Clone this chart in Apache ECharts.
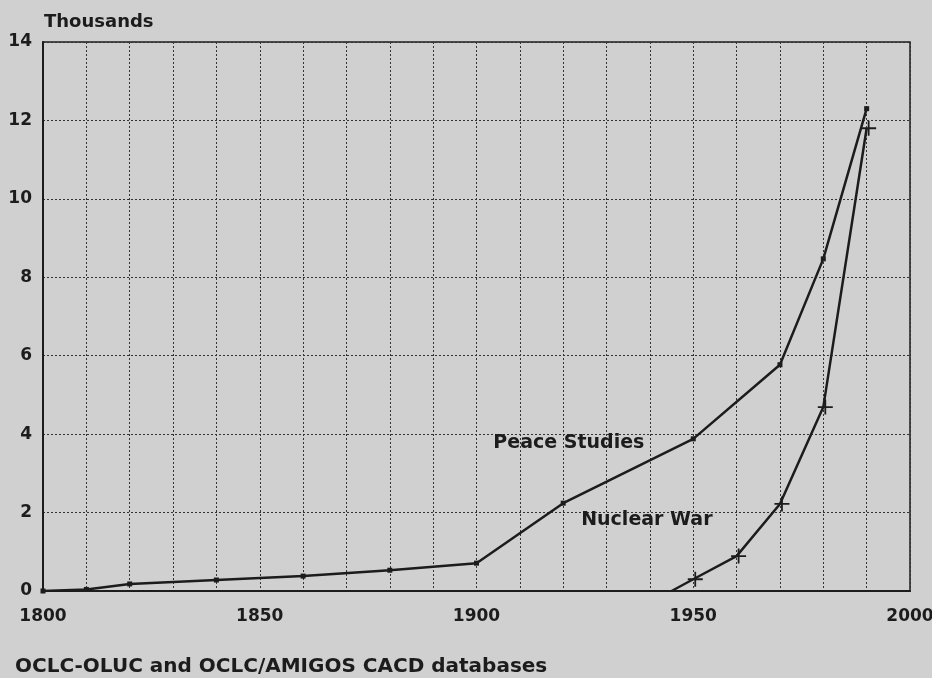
<!DOCTYPE html>
<html>
<head>
<meta charset="utf-8">
<script src="https://cdn.jsdelivr.net/npm/echarts@6/dist/echarts.min.js"></script>
<style>
  html, body { margin: 0; padding: 0; background: #d0d0d0; }
  #chart { width: 932px; height: 678px; }
</style>
</head>
<body>
<div id="chart"></div>
<script>
// values in thousands
const peaceStudies = [
  [1800, 0], [1810, 0.04], [1820, 0.18], [1840, 0.28], [1860, 0.38],
  [1880, 0.53], [1900, 0.71], [1920, 2.24], [1950, 3.88], [1970, 5.77],
  [1980, 8.47], [1990, 12.3]
];
const nuclearWar = [
  [1945, 0], [1950, 0.3], [1960, 0.89], [1970, 2.22], [1980, 4.69], [1990, 11.8]
];
const yearLabels = [1800, 1850, 1900, 1950, 2000];
const seriesLabels = [
  { name: "Peace Studies", at: [1921.3, 3.78] },
  { name: "Nuclear War", at: [1939.3, 1.81] }
];

const ink = "#1c1c1c";
const font = "DejaVu Sans";
const crossSymbol = "path://M0,4.4H10V5.6H0Z M4.4,0H5.6V10H4.4Z";

function seriesLabel(i) {
  return {
    symbol: "circle", symbolSize: 0,
    itemStyle: { color: "transparent" },
    data: [{
      coord: seriesLabels[i].at,
      label: {
        show: true, position: "inside", formatter: seriesLabels[i].name,
        fontSize: 19, fontWeight: "bold", color: ink, fontFamily: font
      }
    }]
  };
}

const chart = echarts.init(document.getElementById("chart"), null, { renderer: "canvas" });

chart.setOption({
  animation: false,
  backgroundColor: "#d0d0d0",
  textStyle: { fontFamily: font, color: ink },
  grid: {
    left: 43, right: 22, top: 42, bottom: 87,
    outerBoundsMode: "none", containLabel: false,
    show: true, borderColor: ink, borderWidth: 1.5, backgroundColor: "transparent"
  },
  title: [
    {
      text: "Thousands", left: 39, top: 8,
      textStyle: { fontFamily: font, fontSize: 18, fontWeight: "bold", color: ink }
    },
    {
      text: "OCLC-OLUC and OCLC/AMIGOS CACD databases", left: 10, top: 652,
      textStyle: { fontFamily: font, fontSize: 20, fontWeight: "bold", color: ink }
    }
  ],
  xAxis: {
    type: "value", min: 1800, max: 2000, interval: 10,
    axisLine: { show: true, onZero: false, lineStyle: { color: ink, width: 2 } },
    axisTick: { show: false },
    axisLabel: {
      margin: 17, fontSize: 17, fontWeight: "bold", color: ink, fontFamily: font,
      formatter: v => (yearLabels.includes(v) ? String(v) : "")
    },
    splitLine: { show: true, lineStyle: { type: [2, 2], color: "#333", width: 1 } }
  },
  yAxis: {
    type: "value", min: 0, max: 14, interval: 2,
    axisLine: { show: true, lineStyle: { color: ink, width: 2 } },
    axisTick: { show: false },
    axisLabel: { margin: 11, fontSize: 17, fontWeight: "bold", color: ink, fontFamily: font },
    splitLine: { show: true, lineStyle: { type: [2, 2], color: "#333", width: 1 } }
  },
  series: [
    {
      name: "Peace Studies", type: "line", data: peaceStudies,
      symbol: "rect", symbolSize: 5, showSymbol: true,
      lineStyle: { color: ink, width: 2.5 },
      itemStyle: { color: ink },
      markPoint: seriesLabel(0)
    },
    {
      name: "Nuclear War", type: "line",
      data: nuclearWar.map((p, i) => (i === 0 ? { value: p, symbol: "none" } : p)),
      symbol: crossSymbol, symbolSize: 15,
      symbolOffset: [2, 0],
      lineStyle: { color: ink, width: 2.5 },
      itemStyle: { color: ink },
      markPoint: seriesLabel(1)
    }
  ]
});
</script>
</body>
</html>
